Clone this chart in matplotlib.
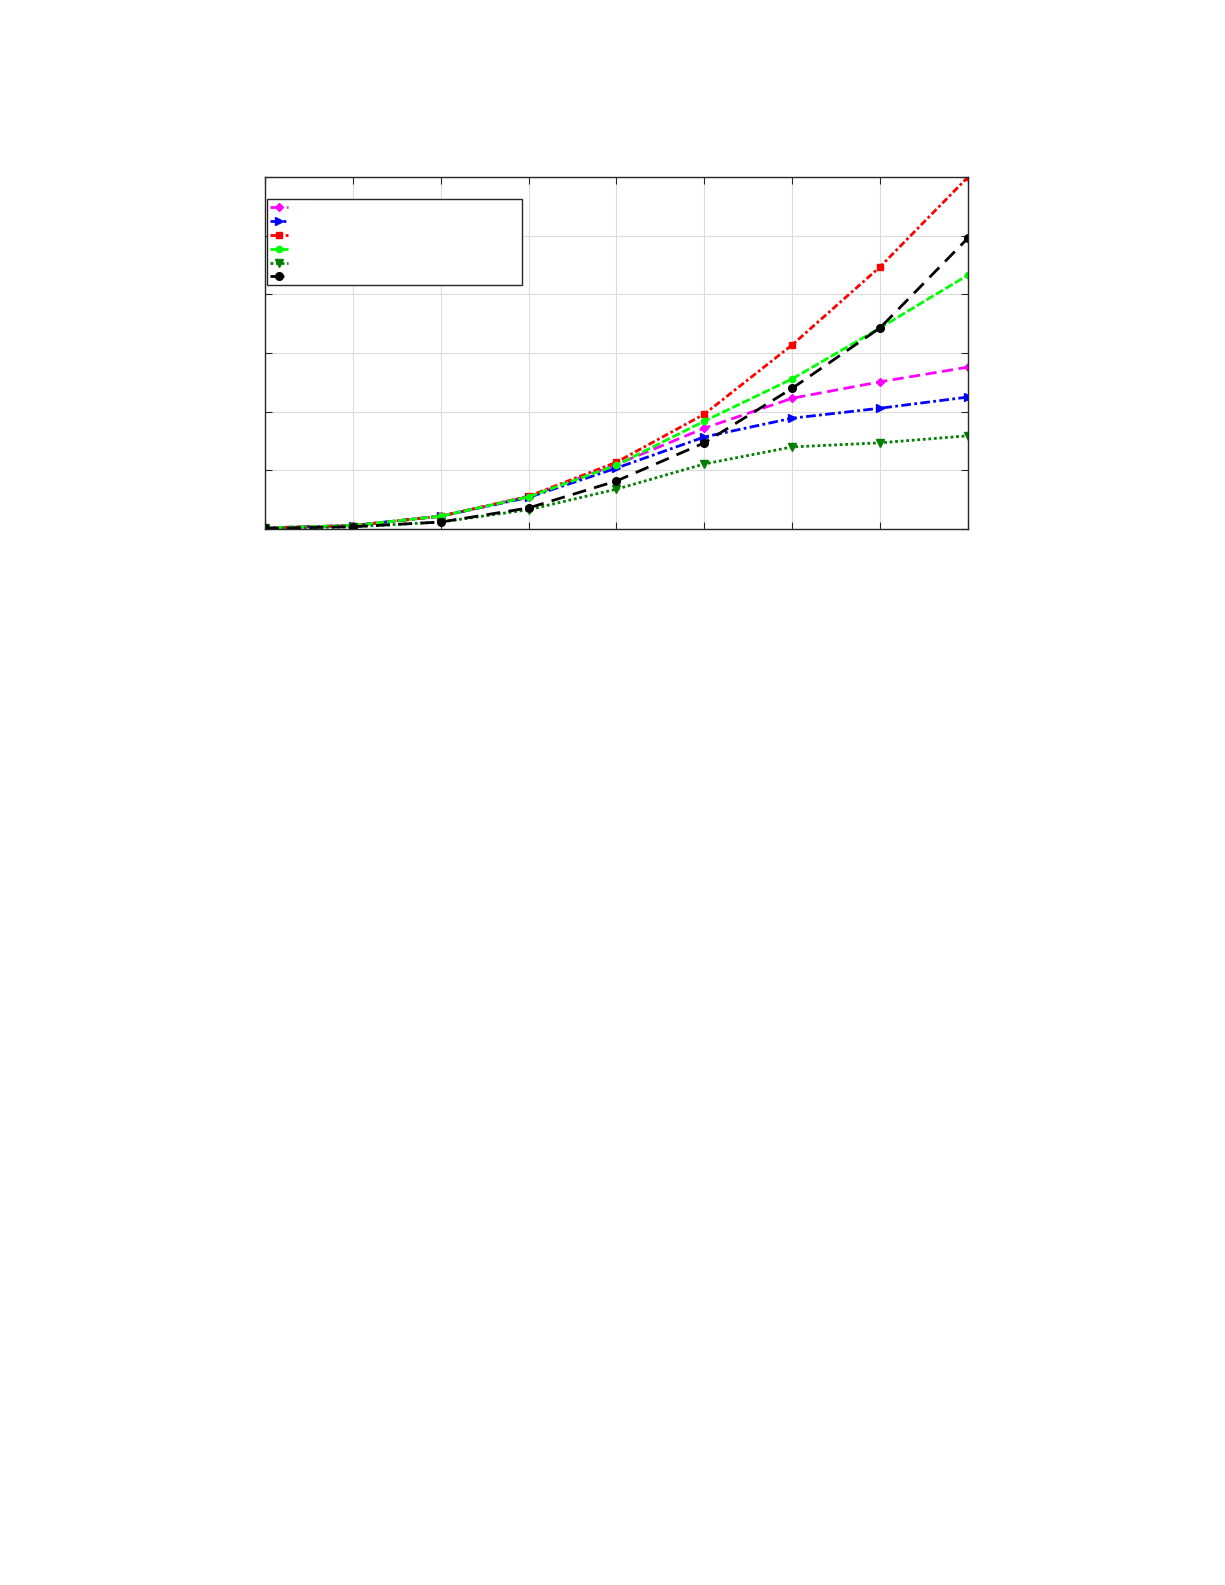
import matplotlib
matplotlib.use('Agg')
import matplotlib.pyplot as plt

# Data (no tick labels are shown there)
x = [0, 1, 2, 3, 4, 5, 6, 7, 8]
magenta_vals = [0.02, 0.06, 0.22, 0.55, 1.10, 1.72, 2.23, 2.51, 2.76]
blue_vals = [0.02, 0.06, 0.22, 0.54, 1.04, 1.57, 1.89, 2.06, 2.25]
red_vals = [0.02, 0.06, 0.22, 0.56, 1.14, 1.96, 3.14, 4.47, 6.00]
lime_vals = [0.02, 0.06, 0.22, 0.55, 1.09, 1.84, 2.56, 3.43, 4.33]
dkgreen_vals = [0.01, 0.04, 0.12, 0.33, 0.68, 1.11, 1.40, 1.47, 1.59]
black_vals = [0.01, 0.04, 0.12, 0.36, 0.82, 1.47, 2.40, 3.43, 4.96]
legend_labels = [' ', ' ', ' ', ' ', ' ', ' ']

fig = plt.figure(figsize=(12.25, 15.85), dpi=100)
ax = fig.add_axes([0.2163, 0.6662, 0.5739, 0.2221])

lw = 2.0
lines = []
lines += ax.plot(x, magenta_vals, color='#FF00FF', linestyle=(0, (4, 2)), lw=lw,
                 marker='D', markersize=4.5)
lines += ax.plot(x, blue_vals, color='#0000FF', linestyle=(0, (3.5, 1.2, 1, 1.2)), lw=lw,
                 marker='>', markersize=5.5)
lines += ax.plot(x, red_vals, color='#FF0000', linestyle=(0, (2.5, 1, 1, 1)), lw=lw,
                 marker='s', markersize=4)
lines += ax.plot(x, lime_vals, color='#00FF00', linestyle=(0, (3, 1)), lw=lw,
                 marker='o', markersize=4.5)
lines += ax.plot(x, dkgreen_vals, color='#007F00', linestyle=(0, (1, 1)), lw=lw,
                 marker='v', markersize=5.5)
lines += ax.plot(x, black_vals, color='black', linestyle=(0, (5, 3)), lw=lw,
                 marker='o', markersize=5.5)

ax.set_xlim(0, 8)
ax.set_ylim(0, 6)
ax.set_xticks(x)
ax.set_yticks([0, 1, 2, 3, 4, 5, 6])
ax.tick_params(direction='in', top=True, right=True, labelbottom=False,
               labelleft=False, length=5, color='#262626')
ax.grid(True, color='#dcdcdc', linewidth=0.8)
for s in ax.spines.values():
    s.set_color('#262626')
    s.set_linewidth(1.0)

leg = ax.legend(lines, legend_labels, loc='upper left',
                bbox_to_anchor=(0.003, 0.9375, 0.363, 0.0), mode='expand',
                fontsize=7, labelspacing=0.4, handlelength=1.8, handletextpad=0.4,
                borderpad=0.35, borderaxespad=0.0, fancybox=False, framealpha=1)
leg.get_frame().set_edgecolor('#262626')
leg.get_frame().set_linewidth(1.0)

fig.savefig('out.png', dpi=100)
